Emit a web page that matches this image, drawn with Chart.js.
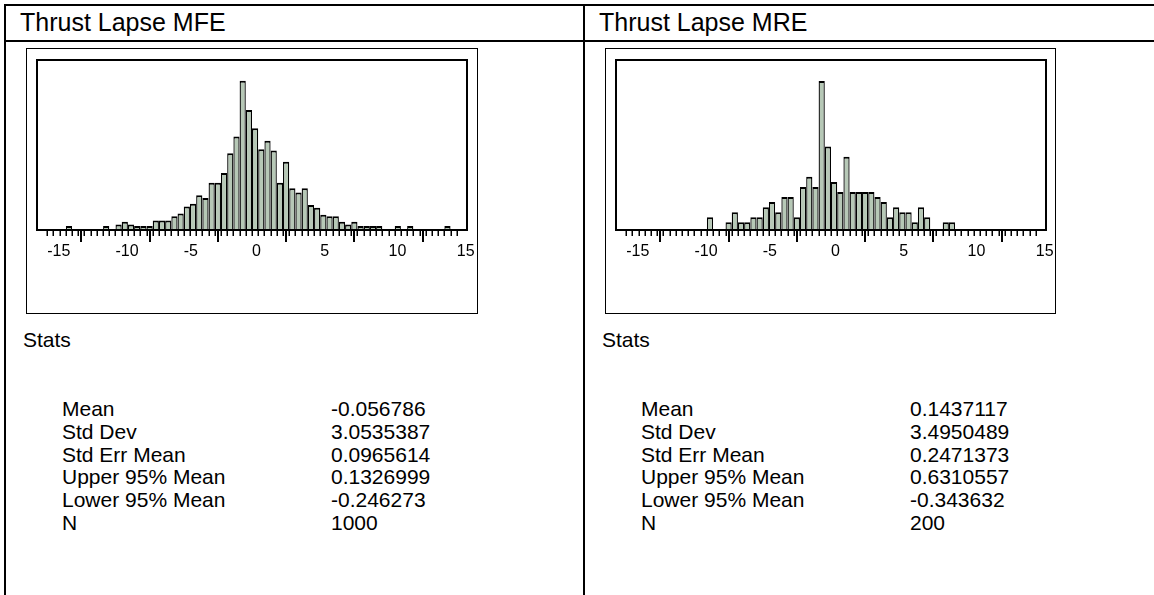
<!DOCTYPE html>
<html>
<head>
<meta charset="utf-8">
<title>Thrust Lapse</title>
<script src="https://cdn.jsdelivr.net/npm/chart.js@4.4.1/dist/chart.umd.min.js"></script>
<style>
  body { margin: 0; background: #fff; }
  #page { position: relative; width: 1154px; height: 595px; overflow: hidden;
          font-family: "Liberation Sans", Arial, sans-serif; color: #000; }
  .line { position: absolute; background: #000; }
  .panel { position: absolute; top: 0; width: 579px; height: 595px; }
  .title { position: absolute; left: 16px; top: 7px; font-size: 25px; line-height: 30px; white-space: nowrap; }
  .box { position: absolute; left: 22px; top: 48px; width: 452px; height: 266px;
         border: 1.5px solid #000; box-sizing: border-box; }
  .panel canvas { position: absolute; left: 23px; top: 50px; }
  .stats-h { position: absolute; left: 19px; top: 328px; font-size: 21px; line-height: 24px; }
  .col { position: absolute; top: 398px; font-size: 21px; line-height: 22.8px; white-space: nowrap; }
  .col.lab { left: 58px; }
  .col.val { left: 327px; }
</style>
</head>
<body>
<div id="page">
  <div class="line" style="left:4px;top:4px;width:1150px;height:2px"></div>
  <div class="line" style="left:4px;top:40px;width:1150px;height:2px"></div>
  <div class="line" style="left:4px;top:4px;width:2px;height:591px"></div>
  <div class="line" style="left:583px;top:4px;width:2px;height:591px"></div>

  <div class="panel" id="p1" style="left:4px">
    <div class="title" id="t1"></div>
    <div class="box"></div>
    <canvas id="mfeChart" width="450" height="261"></canvas>
    <div class="stats-h">Stats</div>
    <div class="col lab" id="l1"></div>
    <div class="col val" id="v1"></div>
  </div>

  <div class="panel" id="p2" style="left:583px">
    <div class="title" id="t2"></div>
    <div class="box" style="width:451px"></div>
    <canvas id="mreChart" width="450" height="261"></canvas>
    <div class="stats-h">Stats</div>
    <div class="col lab" id="l2"></div>
    <div class="col val" id="v2"></div>
  </div>
</div>

<script>
// histogram bins: 11 bins per 5 units, first edge at -15
var binWidth = 5 / 11;
var firstEdge = -15;
var tickValues = [-15, -10, -5, 0, 5, 10, 15];

// counts per bin, one row per 5-unit span, null = empty bin
var mfeCounts = [
  null, null, null, 1, null, null, null, null, null, 1, null,
  2, 4, 2, 1, 1, 1, 5, 5, 5, 8, 10,
  15, 17, 23, 21, 32, 32, 39, 53, 65, 105, 84,
  71, 56, 62, 55, 32, 47, 28, 25, 28, 16, 14,
  9, 8, 8, 4, 2, 4, 1, 1, 1, 1, null,
  null, 1, null, 1, null, null, null, null, null, 1, null
];
var mreCounts = [
  null, null, null, null, null, null, null, null, null, null, null,
  null, null, 2, null, null, 1, 3, 1, 1, 2, 2,
  4, 5, 3, 6, 6, 2, 8, 10, 8, 29, 16,
  9, 7, 14, 7, 7, 7, 7, 6, 5, 2, 4,
  3, 3, 1, 4, 2, null, null, 1, 1, null, null,
  null, null, null, null, null, null, null, null, null, null, null
];

var titles = ['Thrust Lapse MFE', 'Thrust Lapse MRE'];
var statLabels = ['Mean', 'Std Dev', 'Std Err Mean', 'Upper 95% Mean', 'Lower 95% Mean', 'N'];
var mfeStats = ['-0.056786', '3.0535387', '0.0965614', '0.1326999', '-0.246273', '1000'];
var mreStats = ['0.1437117', '3.4950489', '0.2471373', '0.6310557', '-0.343632', '200'];

var binCenters = mfeCounts.map(function (c, i) { return firstEdge + (i + 0.5) * binWidth; });
var binEdges = [];
for (var i = 0; i <= mfeCounts.length; i++) binEdges.push(firstEdge + i * binWidth);

var barFill = 'rgb(182,200,182)';

// plot frame + short minor ticks at every bin edge
var framePlugin = {
  id: 'frame',
  afterDraw: function (chart) {
    var a = chart.chartArea, c = chart.ctx, xs = chart.scales.x;
    c.save();
    c.strokeStyle = '#000';
    c.lineWidth = 2;
    c.strokeRect(a.left, a.top, a.right - a.left, a.bottom - a.top);
    c.lineWidth = 1.5;
    binEdges.forEach(function (v) {
      var px = Math.round(xs.getPixelForValue(v)) + 0.25;
      c.beginPath();
      c.moveTo(px, a.bottom);
      c.lineTo(px, a.bottom + 6);
      c.stroke();
    });
    c.restore();
  }
};

function buildHist(id, counts, yMin, yMax) {
  var ctx = document.getElementById(id);
  var points = counts.map(function (c, i) { return { x: binCenters[i], y: c }; });
  var chart = new Chart(ctx, {
    type: 'bar',
    data: {
      datasets: [{
        data: points,
        backgroundColor: barFill,
        borderColor: '#000',
        borderWidth: { top: 2, left: 1.3, right: 1.3, bottom: 0 },
        borderSkipped: 'start',
        base: yMin,
        barPercentage: 1,
        categoryPercentage: 1,
        inflateAmount: 0
      }]
    },
    options: {
      responsive: false,
      animation: false,
      devicePixelRatio: 1,
      layout: { padding: { left: 10, right: 10, top: 10, bottom: 0 } },
      plugins: { legend: { display: false }, tooltip: { enabled: false } },
      scales: {
        x: {
          type: 'linear', min: -15.75, max: 15.75, z: 1, offset: false,
          afterFit: function (s) { s.height = 81; },
          afterBuildTicks: function (s) { s.ticks = tickValues.map(function (v) { return { value: v }; }); },
          grid: { display: true, drawOnChartArea: false, drawTicks: true, tickLength: 12, color: '#000', lineWidth: 2 },
          border: { display: true, color: '#000', width: 2 },
          ticks: {
            align: 'start', padding: 0, autoSkip: false, maxRotation: 0, color: '#000',
            font: { family: '"Liberation Sans", Arial, sans-serif', size: 16 },
            callback: function (v) { return String(v); }
          }
        },
        y: { display: false, min: yMin, max: yMax }
      }
    },
    plugins: [framePlugin]
  });
  return chart;
}

function fillText(n, title, stats) {
  document.getElementById('t' + n).textContent = title;
  document.getElementById('l' + n).innerHTML = statLabels.join('<br>');
  document.getElementById('v' + n).innerHTML = stats.join('<br>');
}

fillText(1, titles[0], mfeStats);
fillText(2, titles[1], mreStats);
window.mfeChart = buildHist('mfeChart', mfeCounts, -1.86, 119.8);
window.mreChart = buildHist('mreChart', mreCounts, -0.53, 33.16);
</script>
</body>
</html>
